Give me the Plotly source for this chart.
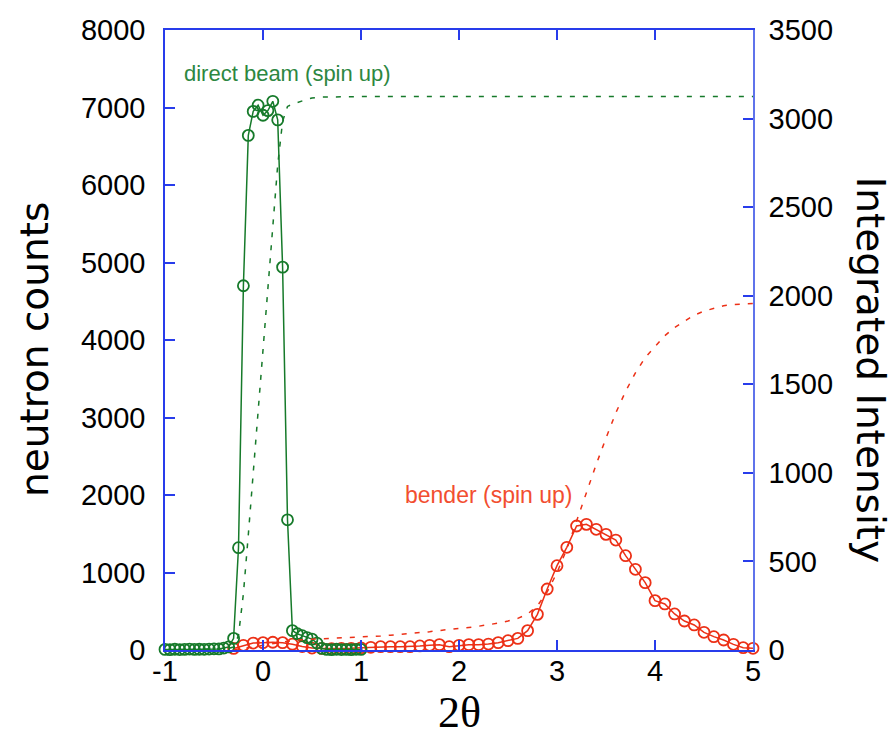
import numpy as np
import plotly.graph_objects as go

# Direct beam (spin up): detector scan, step 0.05 deg
beam_2theta = [-1.00, -0.95, -0.90, -0.85, -0.80, -0.75, -0.70, -0.65, -0.60, -0.55,
               -0.50, -0.45, -0.40, -0.35, -0.30, -0.25, -0.20, -0.15, -0.10, -0.05,
               0.00, 0.05, 0.10, 0.15, 0.20, 0.25, 0.30, 0.35, 0.40, 0.45,
               0.50, 0.55, 0.60, 0.65, 0.70, 0.75, 0.80, 0.85, 0.90, 0.95, 1.00]
beam_counts = [8, 5, 10, 6, 8, 12, 7, 10, 9, 12,
               15, 14, 25, 40, 150, 1320, 4700, 6640, 6950, 7030,
               6900, 6960, 7080, 6840, 4940, 1680, 250, 210, 185, 160,
               140, 90, 20, 8, 5, 10, 6, 8, 5, 9, 7]
beam_step = 0.05

# Bender (spin up): detector scan, step 0.1 deg
bender_2theta = [-0.3, -0.2, -0.1, 0.0, 0.1, 0.2, 0.3, 0.4, 0.5, 0.6,
                 0.7, 0.8, 0.9, 1.0, 1.1, 1.2, 1.3, 1.4, 1.5, 1.6,
                 1.7, 1.8, 1.9, 2.0, 2.1, 2.2, 2.3, 2.4, 2.5, 2.6,
                 2.7, 2.8, 2.9, 3.0, 3.1, 3.2, 3.3, 3.4, 3.5, 3.6,
                 3.7, 3.8, 3.9, 4.0, 4.1, 4.2, 4.3, 4.4, 4.5, 4.6,
                 4.7, 4.8, 4.9, 5.0]
bender_counts = [20, 60, 90, 95, 100, 95, 75, 45, 25, 20,
                 18, 20, 22, 28, 35, 43, 43, 43, 43, 52,
                 60, 69, 43, 60, 69, 69, 77, 95, 120, 150,
                 250, 460, 787, 1088, 1325, 1600, 1621, 1557, 1492, 1419,
                 1217, 1041, 869, 637, 594, 465, 374, 323, 228, 172,
                 129, 73, 30, 22]
bender_step = 0.1

x_ticks = [-1, 0, 1, 2, 3, 4, 5]
x_ticktext = ["-1", "0", "1", "2", "3", "4", "5"]
left_ticks = [0, 1000, 2000, 3000, 4000, 5000, 6000, 7000, 8000]
right_ticks = [0, 500, 1000, 1500, 2000, 2500, 3000, 3500]

# Running integral of each scan (counts x step width)
beam_int = np.cumsum(beam_counts) * beam_step
bender_int = np.cumsum(bender_counts) * bender_step
# the direct-beam integral stays flat out to the end of the 2theta range
beam_int_x = beam_2theta + [x_ticks[-1]]
beam_int_y = list(beam_int) + [beam_int[-1]]

GREEN = "rgb(22,122,42)"
GREEN_TXT = "rgb(45,135,65)"
RED = "rgb(236,48,22)"
RED_TXT = "rgb(242,78,48)"
BLUE = "rgb(40,60,235)"
BLUE_R = "rgb(95,115,235)"
FONT = "Liberation Sans, Arial, Helvetica, sans-serif"
TITLE_FONT = "DejaVu Sans, Liberation Sans, sans-serif"

fig = go.Figure()

fig.add_trace(go.Scatter(
    x=bender_2theta, y=bender_int, yaxis="y2", mode="lines",
    line=dict(color=RED, width=1.5, dash="5px,8px"), cliponaxis=False,
    showlegend=False))
fig.add_trace(go.Scatter(
    x=beam_int_x, y=beam_int_y, yaxis="y2", mode="lines",
    line=dict(color=GREEN, width=1.5, dash="5px,8px"), cliponaxis=False,
    showlegend=False))
fig.add_trace(go.Scatter(
    x=bender_2theta, y=bender_counts, mode="lines+markers",
    line=dict(color=RED, width=1.5),
    marker=dict(symbol="circle-open", size=11, color=RED, line=dict(width=1.8)),
    cliponaxis=False, showlegend=False))
fig.add_trace(go.Scatter(
    x=beam_2theta, y=beam_counts, mode="lines+markers",
    line=dict(color=GREEN, width=1.5),
    marker=dict(symbol="circle-open", size=11, color=GREEN, line=dict(width=1.8)),
    cliponaxis=False, showlegend=False))

fig.add_annotation(x=-0.83, y=7445, xref="x", yref="y", xanchor="left", yanchor="middle",
                   text="direct beam (spin up)", showarrow=False,
                   font=dict(family=FONT, size=22, color=GREEN_TXT))
fig.add_annotation(x=1.43, y=2000, xref="x", yref="y", xanchor="left", yanchor="middle",
                   text="bender (spin up)", showarrow=False,
                   font=dict(family=FONT, size=23, color=RED_TXT))

# axis titles
fig.add_annotation(x=-0.221, y=0.484, xref="paper", yref="paper", textangle=-90,
                   xanchor="center", yanchor="middle",
                   text="neutron counts", showarrow=False,
                   font=dict(family=TITLE_FONT, size=39, color="black"))
fig.add_annotation(x=1.199, y=0.452, xref="paper", yref="paper", textangle=90,
                   xanchor="center", yanchor="middle",
                   text="Integrated Intensity", showarrow=False,
                   font=dict(family=TITLE_FONT, size=39, color="black"))
fig.add_annotation(x=0.5, y=-0.1016, xref="paper", yref="paper",
                   xanchor="center", yanchor="middle",
                   text="2θ", showarrow=False,
                   font=dict(family="Liberation Serif, Times New Roman, serif", size=44, color="black"))

tickfont = dict(family=FONT, size=29, color="black")
fig.update_layout(
    width=896, height=736,
    margin=dict(l=165, r=143, t=30, b=86),
    paper_bgcolor="white", plot_bgcolor="white",
    xaxis=dict(range=[-1, 5], tickvals=x_ticks, ticktext=x_ticktext,
               ticks="inside", ticklen=10, tickwidth=1.5, tickcolor=BLUE,
               showline=True, linecolor=BLUE, linewidth=1.5, mirror="ticks",
               showgrid=False, zeroline=False, tickfont=tickfont,
               ticklabelstandoff=-6),
    yaxis=dict(range=[0, 8000], tickvals=left_ticks,
               ticks="inside", ticklen=10, tickwidth=1.5, tickcolor=BLUE,
               showline=True, linecolor=BLUE, linewidth=1.5,
               showgrid=False, zeroline=False, tickfont=tickfont,
               ticklabelstandoff=12),
    yaxis2=dict(range=[0, 3500], tickvals=right_ticks, overlaying="y", side="right",
                ticks="inside", ticklen=10, tickwidth=1.5, tickcolor=BLUE,
                showline=True, linecolor=BLUE_R, linewidth=1.5,
                showgrid=False, zeroline=False, tickfont=tickfont,
                ticklabelstandoff=8),
)

fig.write_html("out.html")
